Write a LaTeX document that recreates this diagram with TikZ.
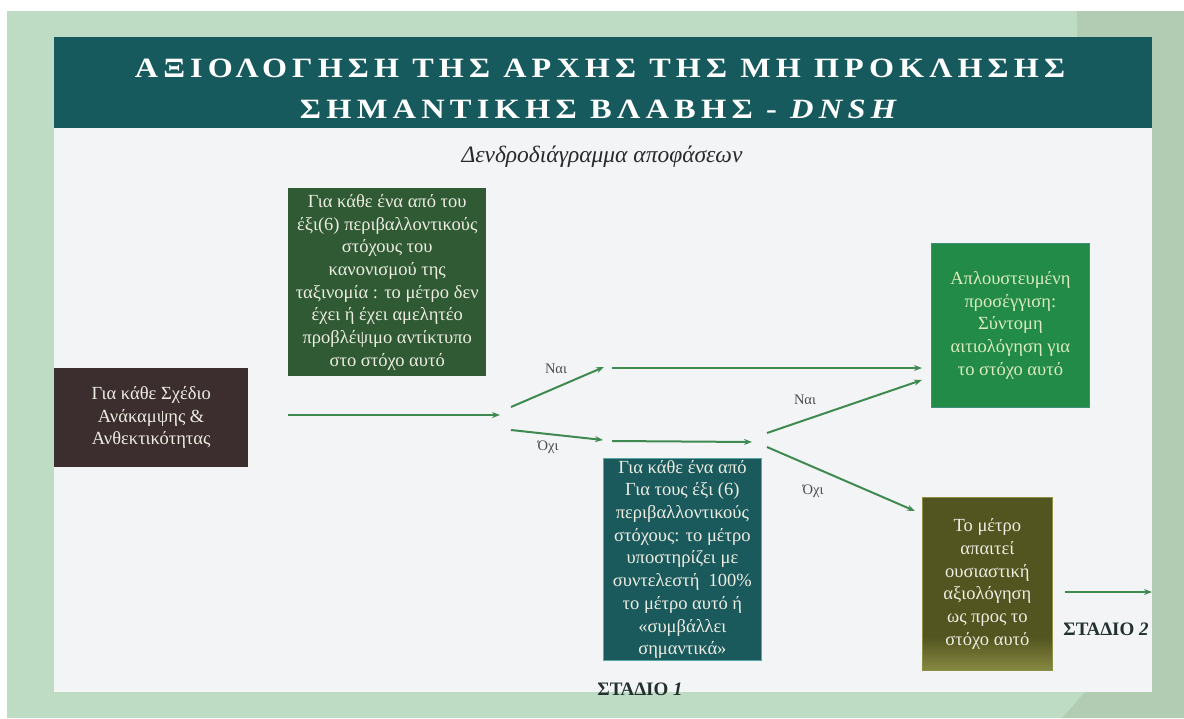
\documentclass[tikz,border=0pt]{standalone}
\usepackage{fontspec}
\usepackage{graphicx}
\setmainfont{Liberation Serif}
\usetikzlibrary{arrows.meta}
\definecolor{bggreen}{HTML}{BEDCC4}
\definecolor{bgstrip}{HTML}{B2CCB4}
\definecolor{panel}{HTML}{F3F4F6}
\definecolor{band}{HTML}{175A5E}
\definecolor{brownbox}{HTML}{3C2E2F}
\definecolor{dgreenbox}{HTML}{2F5A34}
\definecolor{tealbox}{HTML}{1A5A5D}
\definecolor{tealedge}{HTML}{5BA7A8}
\definecolor{bgreenbox}{HTML}{228B47}
\definecolor{bgreenedge}{HTML}{3F8E7A}
\definecolor{greentext}{HTML}{DCEBC0}
\definecolor{oliveA}{HTML}{535520}
\definecolor{oliveB}{HTML}{858840}
\definecolor{oliveedge}{HTML}{8C8E45}
\definecolor{arrowc}{HTML}{3F8A50}
\definecolor{boxtext}{HTML}{EEEDE2}
\definecolor{labeltext}{HTML}{4A4A4A}
\definecolor{stagetext}{HTML}{223030}
\definecolor{subtext}{HTML}{2A2A2A}
\begin{document}
\begin{tikzpicture}[x=1pt,y=-1pt,
  box/.style={anchor=north west, inner sep=0pt, align=center, text=boxtext,
    font=\fontsize{18.5}{22.7}\selectfont},
  conn/.style={draw=arrowc, line width=2pt, -{Stealth[length=8pt,width=6pt]}},
  yesno/.style={text=labeltext, font=\fontsize{14.5}{16}\selectfont, inner sep=0pt},
  stage/.style={text=stagetext, font=\fontsize{19}{22}\selectfont\bfseries, inner sep=0pt},
  titleline/.style={text=white, inner sep=0pt}]
\useasboundingbox (0,0) rectangle (1184,718);
% background
\fill[white] (0,0) rectangle (1184,718);
\fill[bggreen] (7,11) rectangle (1184,718);
\fill[bgstrip] (1077,11) -- (1184,11) -- (1184,718) -- (1062,718) -- (1087,690) -- cycle;
% panel
\fill[panel] (54,128) rectangle (1152,692);
\fill[band] (54,37) rectangle (1152,128);
% title
\node[titleline] (t1) at (600,68.5) {\resizebox{930pt}{18.5pt}{\bfseries\addfontfeature{LetterSpace=16}ΑΞΙΟΛΟΓΗΣΗ ΤΗΣ ΑΡΧΗΣ ΤΗΣ ΜΗ ΠΡΟΚΛΗΣΗΣ}};
\node[titleline] (t2) at (601,109) {\resizebox{602pt}{18.5pt}{\bfseries\addfontfeature{LetterSpace=16}ΣΗΜΑΝΤΙΚΗΣ ΒΛΑΒΗΣ - \textit{DNSH}}};
\node[text=subtext, font=\fontsize{23.5}{26}\selectfont\itshape, inner sep=0pt] (sub) at (602,157) {Δενδροδιάγραμμα αποφάσεων};
% boxes
\node[box, fill=brownbox, minimum width=194pt, minimum height=99pt] (plan) at (54,368)
  {Για κάθε Σχέδιο\\ Ανάκαμψης \&\\ Ανθεκτικότητας};
\node[box, fill=dgreenbox, minimum width=198pt, minimum height=188pt] (neg) at (288,188)
  {Για κάθε ένα από του\\ έξι(6) περιβαλλοντικούς\\ στόχους του\\ κανονισμού της\\ ταξινομία : το μέτρο δεν\\ έχει ή έχει αμελητέο\\ προβλέψιμο αντίκτυπο\\ στο στόχο αυτό};
\node[box, fill=tealbox, draw=tealedge, line width=0.8pt, minimum width=158pt, minimum height=202pt] (supp) at (603,458)
  {Για κάθε ένα από\\ Για τους έξι (6)\\ περιβαλλοντικούς\\ στόχους: το μέτρο\\ υποστηρίζει με\\ συντελεστή\ \ 100\%\\ το μέτρο αυτό ή\\ «συμβάλλει\\ σημαντικά»};
\node[box, fill=bgreenbox, draw=bgreenedge, line width=0.8pt, minimum width=158pt, minimum height=164pt, text=greentext] (simple) at (931,243)
  {Απλουστευμένη\\ προσέγγιση:\\ Σύντομη\\ αιτιολόγηση για\\ το στόχο αυτό};
\node[box, fill=oliveA, draw=oliveedge, line width=0.8pt, minimum width=130pt, minimum height=173pt,
  path picture={\foreach \i [evaluate=\i as \pct using {100-\i*100/16}] in {0,...,15}{
    \fill[oliveB!\pct!oliveA] ([yshift={2*\i-1}]path picture bounding box.south west) rectangle ([yshift={2*\i+2.2}]path picture bounding box.south east);}}] (subst) at (922,497)
  {Το μέτρο\\ απαιτεί\\ ουσιαστική\\ αξιολόγηση\\ ως προς το\\ στόχο αυτό};
% connector end points
\coordinate (a1s) at (288,415); \coordinate (a1e) at (500,415);
\coordinate (a2s) at (511,407); \coordinate (a2e) at (604,367);
\coordinate (a3s) at (511,430); \coordinate (a3e) at (603,440);
\coordinate (a4s) at (612,368); \coordinate (a4e) at (922,368);
\coordinate (a5s) at (612,441); \coordinate (a5e) at (752,442);
\coordinate (a6s) at (767,433); \coordinate (a6e) at (922,380);
\coordinate (a7s) at (767,447); \coordinate (a7e) at (915,511);
\coordinate (a8s) at (1065,592); \coordinate (a8e) at (1152,592);
\draw[conn] (a1s) -- (a1e);
\draw[conn] (a2s) -- (a2e);
\draw[conn] (a3s) -- (a3e);
\draw[conn] (a4s) -- (a4e);
\draw[conn] (a5s) -- (a5e);
\draw[conn] (a6s) -- (a6e);
\draw[conn] (a7s) -- (a7e);
\draw[conn] (a8s) -- (a8e);
% labels
\node[yesno] (yes1) at (556,369) {Ναι};
\node[yesno] (no1) at (548,447) {Όχι};
\node[yesno] (yes2) at (805,400) {Ναι};
\node[yesno] (no2) at (813,491) {Όχι};
\node[stage] (st2) at (1106,629) {ΣΤΑΔΙΟ \textit{2}};
\node[stage] (st1) at (640,689) {ΣΤΑΔΙΟ \textit{1}};
\end{tikzpicture}
\end{document}
